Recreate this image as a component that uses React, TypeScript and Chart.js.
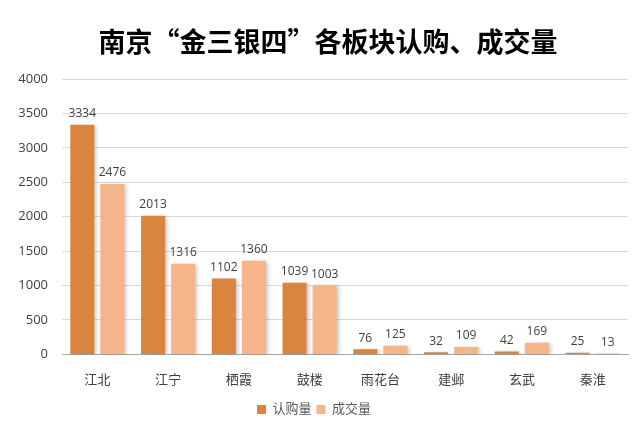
import React, { useEffect, useRef } from "react";
import { Chart, registerables } from "chart.js";

Chart.register(...registerables);

const TITLE = "南京“金三银四”各板块认购、成交量";
const categories = ["江北", "江宁", "栖霞", "鼓楼", "雨花台", "建邺", "玄武", "秦淮"];
const subscribeLabel = "认购量";
const subscribeValues = [3334, 2013, 1102, 1039, 76, 32, 42, 25];
const dealLabel = "成交量";
const dealValues = [2476, 1316, 1360, 1003, 125, 109, 169, 13];
const yTicks = [0, 500, 1000, 1500, 2000, 2500, 3000, 3500, 4000];

const DARK = "#D9843F";
const LIGHT = "#F5B48A";
const FONT = "'Open Sans', 'Noto Sans CJK SC', sans-serif";

const shadowPlugin = {
  id: "barShadow",
  beforeDatasetsDraw(chart: any) {
    const ctx = chart.ctx;
    ctx.save();
    ctx.shadowColor = "rgba(0,0,0,0.22)";
    ctx.shadowBlur = 4;
    ctx.shadowOffsetX = 2;
    ctx.shadowOffsetY = 1;
  },
  afterDatasetsDraw(chart: any) {
    chart.ctx.restore();
  },
};

const titlePlugin = {
  id: "customTitle",
  afterDraw(chart: any) {
    const ctx = chart.ctx;
    ctx.save();
    ctx.font = `bold 27px 'Noto Sans CJK SC', sans-serif`;
    ctx.fillStyle = "#000000";
    ctx.textAlign = "center";
    ctx.textBaseline = "middle";
    ctx.fillText(TITLE, 328, 42);
    ctx.restore();
  },
};

const labelPlugin = {
  id: "valueLabels",
  afterDraw(chart: any) {
    const ctx = chart.ctx;
    ctx.save();
    ctx.font = `12px ${FONT}`;
    ctx.fillStyle = "#404040";
    ctx.textAlign = "center";
    ctx.textBaseline = "bottom";
    chart.data.datasets.forEach((ds: any, di: number) => {
      const meta = chart.getDatasetMeta(di);
      meta.data.forEach((bar: any, i: number) => {
        ctx.fillText(String(ds.data[i]), bar.x, bar.y - 5);
      });
    });
    ctx.restore();
  },
};

export default function App() {
  const ref = useRef<HTMLCanvasElement | null>(null);
  useEffect(() => {
    if (!ref.current) return;
    const chart = new Chart(ref.current, {
      type: "bar",
      data: {
        labels: categories,
        datasets: [
          {
            label: subscribeLabel,
            data: subscribeValues,
            backgroundColor: DARK,
            categoryPercentage: 0.85,
            barPercentage: 0.8,
          },
          {
            label: dealLabel,
            data: dealValues,
            backgroundColor: LIGHT,
            categoryPercentage: 0.85,
            barPercentage: 0.8,
          },
        ],
      },
      options: {
        responsive: false,
        animation: false,
        layout: { padding: { left: 0, right: 13, top: 79, bottom: 3 } },
        plugins: {
          title: { display: false },
          legend: {
            position: "bottom",
            labels: {
              boxWidth: 9,
              boxHeight: 9,
              color: "#595959",
              font: { size: 13, family: FONT },
              padding: 5,
            },
          },
          tooltip: { enabled: false },
        },
        scales: {
          x: {
            grid: { display: false },
            border: { color: "#a6a6a6" },
            ticks: { color: "#404040", font: { size: 13, family: FONT }, padding: 10 },
          },
          y: {
            min: 0,
            max: 4000,
            afterBuildTicks(scale: any) {
              scale.ticks = yTicks.map((v) => ({ value: v }));
            },
            afterFit(scale: any) {
              scale.width = 62;
            },
            grid: { color: "#d9d9d9", drawTicks: false },
            border: { display: false },
            ticks: {
              color: "#404040",
              font: { size: 13, family: FONT },
              padding: 14,
              callback: (v: any) => String(v),
            },
          },
        },
      },
      plugins: [shadowPlugin, labelPlugin, titlePlugin],
    } as any);
    return () => chart.destroy();
  }, []);
  return (
    <div style={{ position: "fixed", left: 0, top: 0, width: 641, height: 429, background: "#fff" }}>
      <canvas ref={ref} width={641} height={429} />
    </div>
  );
}
